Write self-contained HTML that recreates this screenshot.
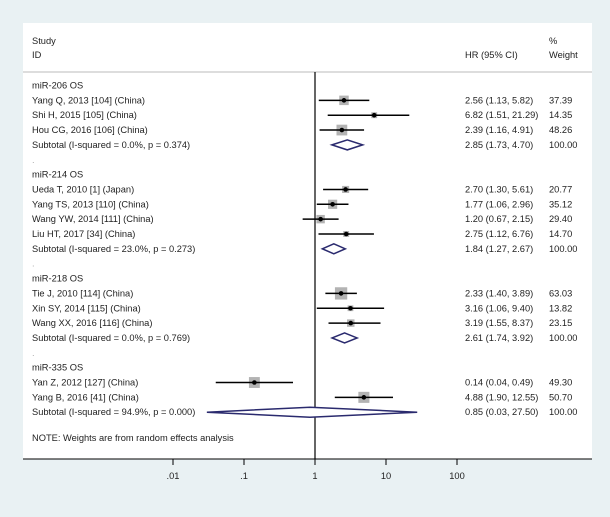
<!DOCTYPE html>
<html><head><meta charset="utf-8"><style>
html,body{margin:0;padding:0;background:#e9f1f3;}
svg{display:block;font-family:"Liberation Sans",Arial,sans-serif;}
</style></head><body>
<svg id="chart" width="610" height="517" viewBox="0 0 610 517">
<rect x="23" y="23" width="569" height="436" fill="#fff"/>
<g id="g"></g>
</svg>
<script>
const rowLabels=["miR-206 OS","Yang Q, 2013 [104] (China)","Shi H, 2015 [105] (China)","Hou CG, 2016 [106] (China)","Subtotal  (I-squared = 0.0%, p = 0.374)",".",
"miR-214 OS","Ueda T, 2010 [1] (Japan)","Yang TS, 2013 [110] (China)","Wang YW, 2014 [111] (China)","Liu HT, 2017 [34] (China)","Subtotal  (I-squared = 23.0%, p = 0.273)",".",
"miR-218 OS","Tie J, 2010 [114] (China)","Xin SY, 2014 [115] (China)","Wang XX, 2016 [116] (China)","Subtotal  (I-squared = 0.0%, p = 0.769)",".",
"miR-335 OS","Yan Z, 2012 [127] (China)","Yang B, 2016 [41] (China)","Subtotal  (I-squared = 94.9%, p = 0.000)"];
const rowType=["h","s","s","s","d","x","h","s","s","s","s","d","x","h","s","s","s","d","x","h","s","s","d"];
const hr=[null,2.56,6.82,2.39,2.85,null,null,2.70,1.77,1.20,2.75,1.84,null,null,2.33,3.16,3.19,2.61,null,null,0.14,4.88,0.85];
const lo=[null,1.13,1.51,1.16,1.73,null,null,1.30,1.06,0.67,1.12,1.27,null,null,1.40,1.06,1.55,1.74,null,null,0.04,1.90,0.03];
const hi=[null,5.82,21.29,4.91,4.70,null,null,5.61,2.96,2.15,6.76,2.67,null,null,3.89,9.40,8.37,3.92,null,null,0.49,12.55,27.50];
const weights=[null,"37.39","14.35","48.26","100.00",null,null,"20.77","35.12","29.40","14.70","100.00",null,null,"63.03","13.82","23.15","100.00",null,null,"49.30","50.70","100.00"];
const ticks=[0.01,0.1,1,10,100];
const tickLabels=[".01",".1","1","10","100"];
const NS="http://www.w3.org/2000/svg",g=document.getElementById('g');
const FS=9.3;
const xs=v=>315+71*Math.log10(v);
const ys=i=>85.5+i*14.85;
function mk(t,a,txt){const e=document.createElementNS(NS,t);for(const k in a)e.setAttribute(k,a[k]);if(txt!=null)e.textContent=txt;g.appendChild(e);return e;}
const f=v=>v.toFixed(2);
let e;
e=mk('text',{x:32,y:44,'font-size':FS,fill:'#222'},'Study');
e=mk('text',{x:32,y:58,'font-size':FS,fill:'#222'},'ID');
e=mk('text',{x:465,y:58,'font-size':FS,fill:'#222'},'HR (95% CI)');
e=mk('text',{x:549,y:44,'font-size':FS,fill:'#222'},'%');
e=mk('text',{x:549,y:58,'font-size':FS,fill:'#222'},'Weight');
e=mk('line',{x1:23,x2:592,y1:72,y2:72,stroke:'#bbb','stroke-width':1});
e=mk('line',{x1:xs(1),x2:xs(1),y1:72,y2:459,stroke:'#000','stroke-width':1.2});
rowLabels.forEach((lab,i)=>{
  const y=ys(i),t=rowType[i];
  e=mk('text',{x:32,y:y+3,'font-size':FS,fill:t==='x'?'#aaa':'#222'},lab);
  
  if(hr[i]==null)return;
  e=mk('text',{x:465,y:y+3,'font-size':FS,fill:'#222'},f(hr[i])+' ('+f(lo[i])+', '+f(hi[i])+')');
  
  e=mk('text',{x:549,y:y+3,'font-size':FS,fill:'#222'},weights[i]);
  
  if(t==='s'){
    const s=1.55*Math.sqrt(parseFloat(weights[i]));
    e=mk('rect',{x:xs(hr[i])-s/2,y:y-s/2,width:s,height:s,fill:'#b3b3b3'});
    
    e=mk('line',{x1:xs(lo[i]),x2:xs(hi[i]),y1:y,y2:y,stroke:'#000','stroke-width':1.5});
    
    e=mk('circle',{cx:xs(hr[i]),cy:y,r:2.3,fill:'#000'});
    
  } else {
    const a=xs(lo[i]),b=xs(hr[i]),c=xs(hi[i]);
    e=mk('polygon',{points:`${a},${y} ${b},${y-5} ${c},${y} ${b},${y+5}`,fill:'#fff',stroke:'#2a2a6e','stroke-width':1.5});
    
  }
});
e=mk('text',{x:32,y:441,'font-size':FS,fill:'#222'},'NOTE: Weights are from random effects analysis');

e=mk('line',{x1:23,x2:592,y1:459,y2:459,stroke:'#000','stroke-width':1});

ticks.forEach((v,i)=>{
  e=mk('line',{x1:xs(v),x2:xs(v),y1:459,y2:465,stroke:'#000','stroke-width':1});
  
  e=mk('text',{x:xs(v),y:479,'font-size':FS,'text-anchor':'middle',fill:'#222'},tickLabels[i]);
  
});
</script>
</body></html>
